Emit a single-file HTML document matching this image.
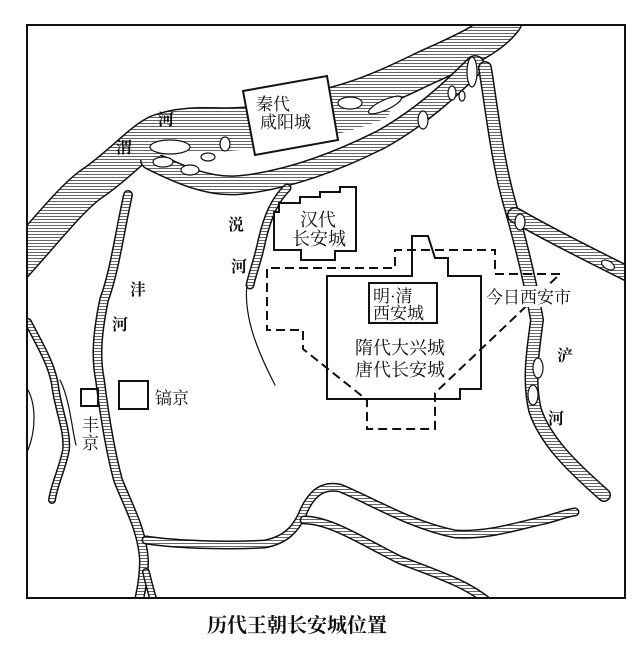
<!DOCTYPE html>
<html><head><meta charset="utf-8"><style>
html,body{margin:0;padding:0;background:#fff;}
svg{display:block;}
text{font-family:"Liberation Serif","Noto Serif CJK SC","Noto Sans CJK SC",serif;fill:#111;}
#cap{position:absolute;left:-48px;top:609px;width:690px;text-align:center;font-family:"Noto Serif CJK SC","Noto Sans CJK SC",serif;font-weight:bold;font-size:20px;color:#111;}
</style></head><body>
<div style="position:relative;width:643px;height:655px;overflow:hidden;">
<svg width="643" height="655" viewBox="0 0 643 655" xmlns="http://www.w3.org/2000/svg">
<defs>
<pattern id="h" width="4" height="3" patternUnits="userSpaceOnUse"><rect width="4" height="3" fill="#fff"/><rect y="0" width="4" height="1" fill="#666"/></pattern>
<clipPath id="c"><rect x="27" y="25" width="598" height="573"/></clipPath>
</defs>
<rect width="643" height="655" fill="#fff"/>
<g clip-path="url(#c)" fill="none" stroke-linecap="round" stroke-linejoin="round">
<g>
<path d="M15,265 C45,232 70,200 90,185 C120,165 140,140 158,132 C190,120 220,128 250,124 C290,118 310,110 335,104 C370,95 400,80 425,68 C460,52 490,40 505,20" stroke="#111" stroke-width="36"/>
<path d="M15,265 C45,232 70,200 90,185 C120,165 140,140 158,132 C190,120 220,128 250,124 C290,118 310,110 335,104 C370,95 400,80 425,68 C460,52 490,40 505,20" stroke="url(#h)" stroke-width="33"/>
<path d="M150,160 C180,175 210,188 240,185 C290,180 340,160 380,140 C420,118 450,90 475,65" stroke="#111" stroke-width="20"/>
<path d="M150,160 C180,175 210,188 240,185 C290,180 340,160 380,140 C420,118 450,90 475,65" stroke="url(#h)" stroke-width="17"/>
<path d="M140,150 C160,140 200,145 240,140 C300,135 340,125 380,110" stroke="url(#h)" stroke-width="20"/>
<g fill="#fff" stroke="#111" stroke-width="1.2">
<ellipse cx="170" cy="147" rx="20" ry="7"/><ellipse cx="163" cy="162" rx="10" ry="5"/><ellipse cx="190" cy="170" rx="9" ry="5"/>
<ellipse cx="208" cy="157" rx="7" ry="4"/><ellipse cx="225" cy="144" rx="5" ry="7"/><ellipse cx="285" cy="137" rx="18" ry="6"/>
<ellipse cx="350" cy="103" rx="12" ry="6"/><ellipse cx="385" cy="105" rx="18" ry="5" transform="rotate(-25 385 105)"/>
<ellipse cx="452" cy="93" rx="4" ry="7"/><ellipse cx="462" cy="96" rx="3" ry="5"/><ellipse cx="423" cy="120" rx="5" ry="9"/>
<ellipse cx="472" cy="72" rx="5" ry="15"/>
</g>
<path d="M485,68 C492,110 497,160 510,205 C520,240 530,280 537,320 C533,350 528,380 535,410 C545,440 570,465 604,495" stroke="#111" stroke-width="14"/>
<path d="M485,68 C492,110 497,160 510,205 C520,240 530,280 537,320 C533,350 528,380 535,410 C545,440 570,465 604,495" stroke="url(#h)" stroke-width="11"/>
<path d="M515,215 C550,235 590,255 630,275" stroke="#111" stroke-width="16"/>
<path d="M515,215 C550,235 590,255 630,275" stroke="url(#h)" stroke-width="13"/>
<g fill="#fff" stroke="#111" stroke-width="1.2"><ellipse cx="520" cy="222" rx="5" ry="8"/><ellipse cx="538" cy="368" rx="5" ry="10"/><ellipse cx="533" cy="395" rx="5" ry="10"/><ellipse cx="608" cy="265" rx="7" ry="4" transform="rotate(30 608 265)"/></g>
<path d="M128,195 C120,230 115,270 104,300 C98,330 95,355 100,380 C105,420 110,450 118,480 C130,510 142,530 144,560 C144,580 140,595 138,605" stroke="#111" stroke-width="10"/>
<path d="M128,195 C120,230 115,270 104,300 C98,330 95,355 100,380 C105,420 110,450 118,480 C130,510 142,530 144,560 C144,580 140,595 138,605" stroke="url(#h)" stroke-width="7"/>
<path d="M146,572 C149,585 152,595 155,605" stroke="#111" stroke-width="8"/>
<path d="M146,572 C149,585 152,595 155,605" stroke="url(#h)" stroke-width="5"/>
<path d="M146,540 C180,545 230,546 265,544 C285,540 295,530 302,515 C312,490 325,485 340,488 C370,500 410,525 455,534 C490,536 520,525 545,520 C560,516 570,512 575,512" stroke="#111" stroke-width="9"/>
<path d="M146,540 C180,545 230,546 265,544 C285,540 295,530 302,515 C312,490 325,485 340,488 C370,500 410,525 455,534 C490,536 520,525 545,520 C560,516 570,512 575,512" stroke="url(#h)" stroke-width="6"/>
<path d="M304,520 C330,520 360,540 400,560 C440,575 470,585 492,605" stroke="#111" stroke-width="9"/>
<path d="M304,520 C330,520 360,540 400,560 C440,575 470,585 492,605" stroke="url(#h)" stroke-width="6"/>
<path d="M28,322 C40,345 52,365 55,385 C58,410 68,430 66,450 C62,470 54,485 52,500" stroke="#111" stroke-width="8"/>
<path d="M28,322 C40,345 52,365 55,385 C58,410 68,430 66,450 C62,470 54,485 52,500" stroke="url(#h)" stroke-width="5"/>
<path d="M28,390 C36,405 36,430 28,450" stroke="#111" stroke-width="1.2"/>
<path d="M60,380 C70,400 72,430 76,445" stroke="#111" stroke-width="1.2"/>
<path d="M287,188 C275,200 268,215 262,240 C258,260 252,275 250,285" stroke="#111" stroke-width="9"/>
<path d="M287,188 C275,200 268,215 262,240 C258,260 252,275 250,285" stroke="url(#h)" stroke-width="6"/>
<path d="M247,285 C245,300 248,320 255,340 C262,360 270,375 275,385" stroke="#111" stroke-width="1.2"/>
</g>
</g>
<rect x="27" y="25" width="598" height="573" fill="none" stroke="#111" stroke-width="2"/>
<polygon points="243,91 327,76 338,140 255,155" fill="#fff" stroke="#111" stroke-width="2"/>
<text x="256" y="110" font-size="17">秦代</text>
<text x="260" y="128" font-size="17">咸阳城</text>
<polygon points="274,250 274,212 279,212 279,203 300,203 300,197 320,197 320,192 340,192 340,187 356,187 356,251 335,251 335,260 301,260 301,250" fill="#fff" stroke="#111" stroke-width="2"/>
<text x="300" y="226" font-size="18">汉代</text>
<text x="292" y="245" font-size="18">长安城</text>
<polyline points="560,274 495,274 495,250 395,250 395,268 267,268 267,330 303,330 303,349 367,400 367,429 435,429 435,393 560,274" fill="none" stroke="#111" stroke-width="2" stroke-dasharray="9,5"/>
<polygon points="327,276 412,276 412,236 428,236 435,258 448,258 448,276 481,276 481,389 460,389 460,399 327,399" fill="none" stroke="#111" stroke-width="2"/>
<rect x="369" y="283" width="68" height="40" fill="#fff" stroke="#111" stroke-width="2"/>
<text x="373" y="302" font-size="17">明·清</text>
<text x="373" y="319" font-size="17">西安城</text>
<text x="355" y="354" font-size="18">隋代大兴城</text>
<text x="355" y="376" font-size="18">唐代长安城</text>
<rect x="485" y="286" width="92" height="21" fill="#fff"/>
<text x="486" y="303" font-size="17">今日西安市</text>
<rect x="81" y="389" width="17" height="17" fill="none" stroke="#111" stroke-width="2"/>
<rect x="119" y="381" width="29" height="28" fill="none" stroke="#111" stroke-width="2"/>
<text x="155" y="404" font-size="17">镐京</text>
<text x="82" y="431" font-size="17">丰</text>
<text x="82" y="449" font-size="17">京</text>
<g font-weight="bold" font-size="16">
<text x="158" y="125">河</text><text x="116" y="153">渭</text>
<text x="228" y="230">涚</text><text x="231" y="272">河</text>
<text x="130" y="295">沣</text><text x="112" y="330">河</text>
<text x="557" y="361">浐</text><text x="548" y="424">河</text>
</g>
</svg>
<div id="cap">历代王朝长安城位置</div>
</div>
</body></html>
